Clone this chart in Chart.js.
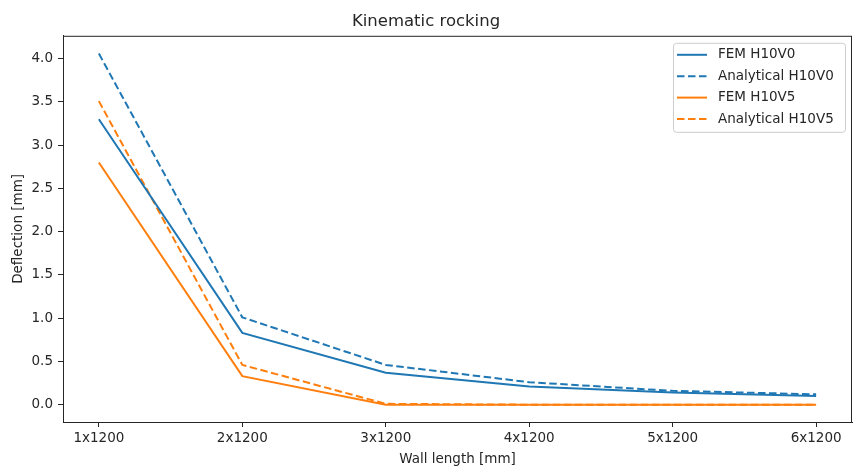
<!DOCTYPE html>
<html>
<head>
<meta charset="utf-8">
<script src="https://cdn.jsdelivr.net/npm/chart.js@4.4.1/dist/chart.umd.min.js"></script>
<style>
  body { margin: 0; background: #fff; }
  #wrap { width: 853px; height: 468px; }
</style>
</head>
<body>
<div id="wrap"><canvas id="rockingChart"></canvas></div>
<script>
// Wall lengths on the x axis
const wallLengths = ['1x1200', '2x1200', '3x1200', '4x1200', '5x1200', '6x1200'];

// Deflections [mm]
const femH10V0 = [3.30, 0.83, 0.37, 0.21, 0.14, 0.10];
const analyticalH10V0 = [4.06, 1.01, 0.46, 0.26, 0.16, 0.12];
const femH10V5 = [2.80, 0.33, 0.00, 0.00, 0.00, 0.00];
const analyticalH10V5 = [3.51, 0.46, 0.01, 0.00, 0.00, 0.00];

// y tick values
const yTicks = [0, 0.5, 1.0, 1.5, 2.0, 2.5, 3.0, 3.5, 4.0];

const BLUE = '#1f77b4';
const ORANGE = '#ff7f0e';
const INK = '#262626';
const FONT = "'DejaVu Sans', sans-serif";

const toPoints = (vals) => vals.map((v, i) => ({ x: i, y: v }));

const makeSet = (label, vals, color, dashed) => ({
    label: label,
    data: toPoints(vals),
    borderColor: color,
    backgroundColor: color,
    borderWidth: 2,
    borderDash: dashed ? [7.5, 3.5] : [],
    pointRadius: 0,
    tension: 0,
    fill: false
});

// box around the plot, like matplotlib spines
const frame = {
    id: 'frame',
    afterDraw(chart) {
        const { ctx, chartArea: a } = chart;
        ctx.save();
        ctx.strokeStyle = INK;
        ctx.lineWidth = 1;
        ctx.strokeRect(a.left + 0.5, a.top + 0.5, a.right - a.left - 1, a.bottom - a.top);
        ctx.restore();
    }
};

// legend drawn in the upper right of the plot
const boxLegend = {
    id: 'boxLegend',
    afterDraw(chart) {
        const { ctx, chartArea: a } = chart;
        const sets = chart.data.datasets;
        const rowH = 21.4;
        const w = 172, h = 89;
        const x0 = a.right - 7 - w, y0 = a.top + 7;
        ctx.save();
        ctx.fillStyle = 'rgba(255,255,255,0.8)';
        ctx.strokeStyle = '#cccccc';
        ctx.lineWidth = 1;
        ctx.beginPath();
        ctx.roundRect(x0 + 0.5, y0 + 0.5, w, h, 3);
        ctx.fill();
        ctx.stroke();
        ctx.font = '13.5px ' + FONT;
        ctx.textBaseline = 'middle';
        sets.forEach((ds, i) => {
            const y = y0 + 12 + i * rowH;
            ctx.strokeStyle = ds.borderColor;
            ctx.lineWidth = 2;
            ctx.setLineDash(ds.borderDash);
            ctx.beginPath();
            ctx.moveTo(x0 + 4, y);
            ctx.lineTo(x0 + 34, y);
            ctx.stroke();
            ctx.setLineDash([]);
            ctx.fillStyle = INK;
            ctx.fillText(ds.label, x0 + 45, y);
        });
        ctx.restore();
    }
};

const initChart = () => {
    const ctx = document.getElementById('rockingChart').getContext('2d');
    new Chart(ctx, {
        type: 'line',
        data: {
            datasets: [
                makeSet('FEM H10V0', femH10V0, BLUE, false),
                makeSet('Analytical H10V0', analyticalH10V0, BLUE, true),
                makeSet('FEM H10V5', femH10V5, ORANGE, false),
                makeSet('Analytical H10V5', analyticalH10V5, ORANGE, true)
            ]
        },
        options: {
            responsive: true,
            maintainAspectRatio: false,
            animation: false,
            layout: { padding: { left: 0, right: 1, top: 0, bottom: 0 } },
            plugins: {
                legend: { display: false },
                tooltip: { enabled: false },
                title: {
                    display: true,
                    text: 'Kinematic rocking',
                    color: INK,
                    font: { family: FONT, size: 16.5, weight: 'normal' },
                    padding: { top: 12, bottom: 4 }
                }
            },
            scales: {
                x: {
                    type: 'linear',
                    min: -0.25,
                    max: 5.25,
                    afterBuildTicks: (scale) => {
                        scale.ticks = wallLengths.map((_, i) => ({ value: i }));
                    },
                    afterFit: (scale) => { scale.height = 46; },
                    ticks: {
                        color: INK,
                        font: { family: FONT, size: 13.5 },
                        padding: 3,
                        maxRotation: 0,
                        autoSkip: false,
                        callback: (v) => wallLengths[v]
                    },
                    grid: { drawOnChartArea: false, drawTicks: true, tickLength: 5, tickColor: INK },
                    border: { color: INK },
                    title: {
                        display: true,
                        text: 'Wall length [mm]',
                        color: INK,
                        font: { family: FONT, size: 13.5 },
                        padding: { top: 0, bottom: 0 }
                    }
                },
                y: {
                    min: -0.2,
                    max: 4.265,
                    afterBuildTicks: (scale) => {
                        scale.ticks = yTicks.map((v) => ({ value: v }));
                    },
                    afterFit: (scale) => { scale.width = 63; },
                    ticks: {
                        color: INK,
                        font: { family: FONT, size: 13.5 },
                        padding: 5,
                        callback: (v) => v.toFixed(1)
                    },
                    grid: { drawOnChartArea: false, drawTicks: true, tickLength: 5, tickColor: INK },
                    border: { color: INK },
                    title: {
                        display: true,
                        text: 'Deflection [mm]',
                        color: INK,
                        font: { family: FONT, size: 13.5 },
                        padding: { top: 10, bottom: 0 }
                    }
                }
            }
        },
        plugins: [frame, boxLegend]
    });
};

document.addEventListener('DOMContentLoaded', initChart);
</script>
</body>
</html>
